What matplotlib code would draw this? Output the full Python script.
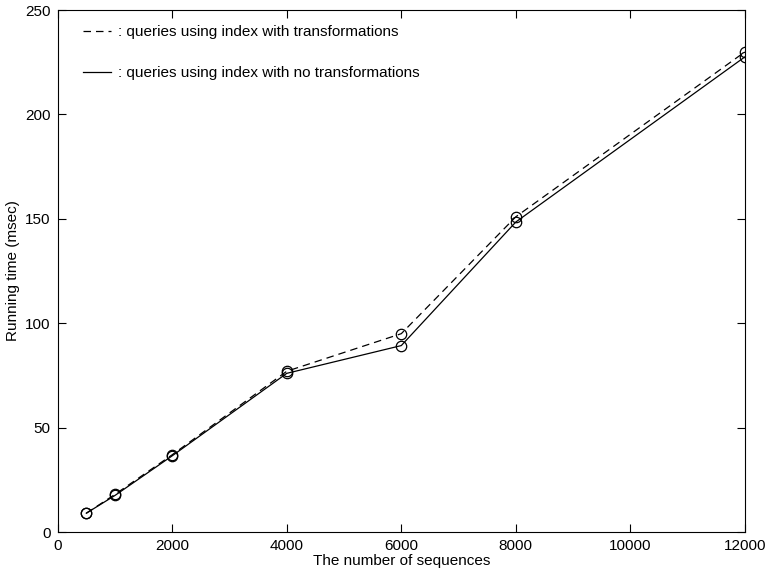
import matplotlib
matplotlib.use("Agg")
import matplotlib.pyplot as plt

plt.rcParams['font.family'] = ['Liberation Sans', 'DejaVu Sans']

n_seq = [500, 1000, 2000, 4000, 6000, 8000, 12000]
t_transf = [9, 18, 37, 77, 95, 151, 230]
t_no_transf = [9, 17.5, 36.5, 76, 89.3, 148.5, 227.6]

fig = plt.figure(figsize=(7.67, 5.71), dpi=100)
ax = fig.add_axes([0.0752, 0.0683, 0.896, 0.914])

ax.plot(n_seq, t_transf, 'k--', lw=0.9, dashes=(6, 4),
        label=': queries using index with transformations')
ax.plot(n_seq, t_no_transf, 'k-', lw=0.9,
        label=': queries using index with no transformations')
ax.plot(n_seq, t_transf, 'ko', mfc='none', ms=7.5, mew=0.9)
ax.plot(n_seq, t_no_transf, 'ko', mfc='none', ms=7.5, mew=0.9)

ax.set_xlim(0, 12000)
ax.set_ylim(0, 250)
ax.set_xticks(range(0, 12001, 2000))
ax.set_yticks(range(0, 251, 50))
ax.tick_params(direction='in', top=True, right=True, labelsize=11, length=6)
ax.tick_params(axis='y', pad=5)
ax.tick_params(axis='x', pad=5)
ax.set_xlabel('The number of sequences', fontsize=11, labelpad=1)
ax.set_ylabel('Running time (msec)', fontsize=11, labelpad=4)

ax.legend(loc='upper left', bbox_to_anchor=(0.037, 0.971), frameon=False,
          fontsize=11, handlelength=1.8, handletextpad=0.5, labelspacing=1.75,
          borderaxespad=0, borderpad=0)

fig.savefig('out.png', dpi=100)
